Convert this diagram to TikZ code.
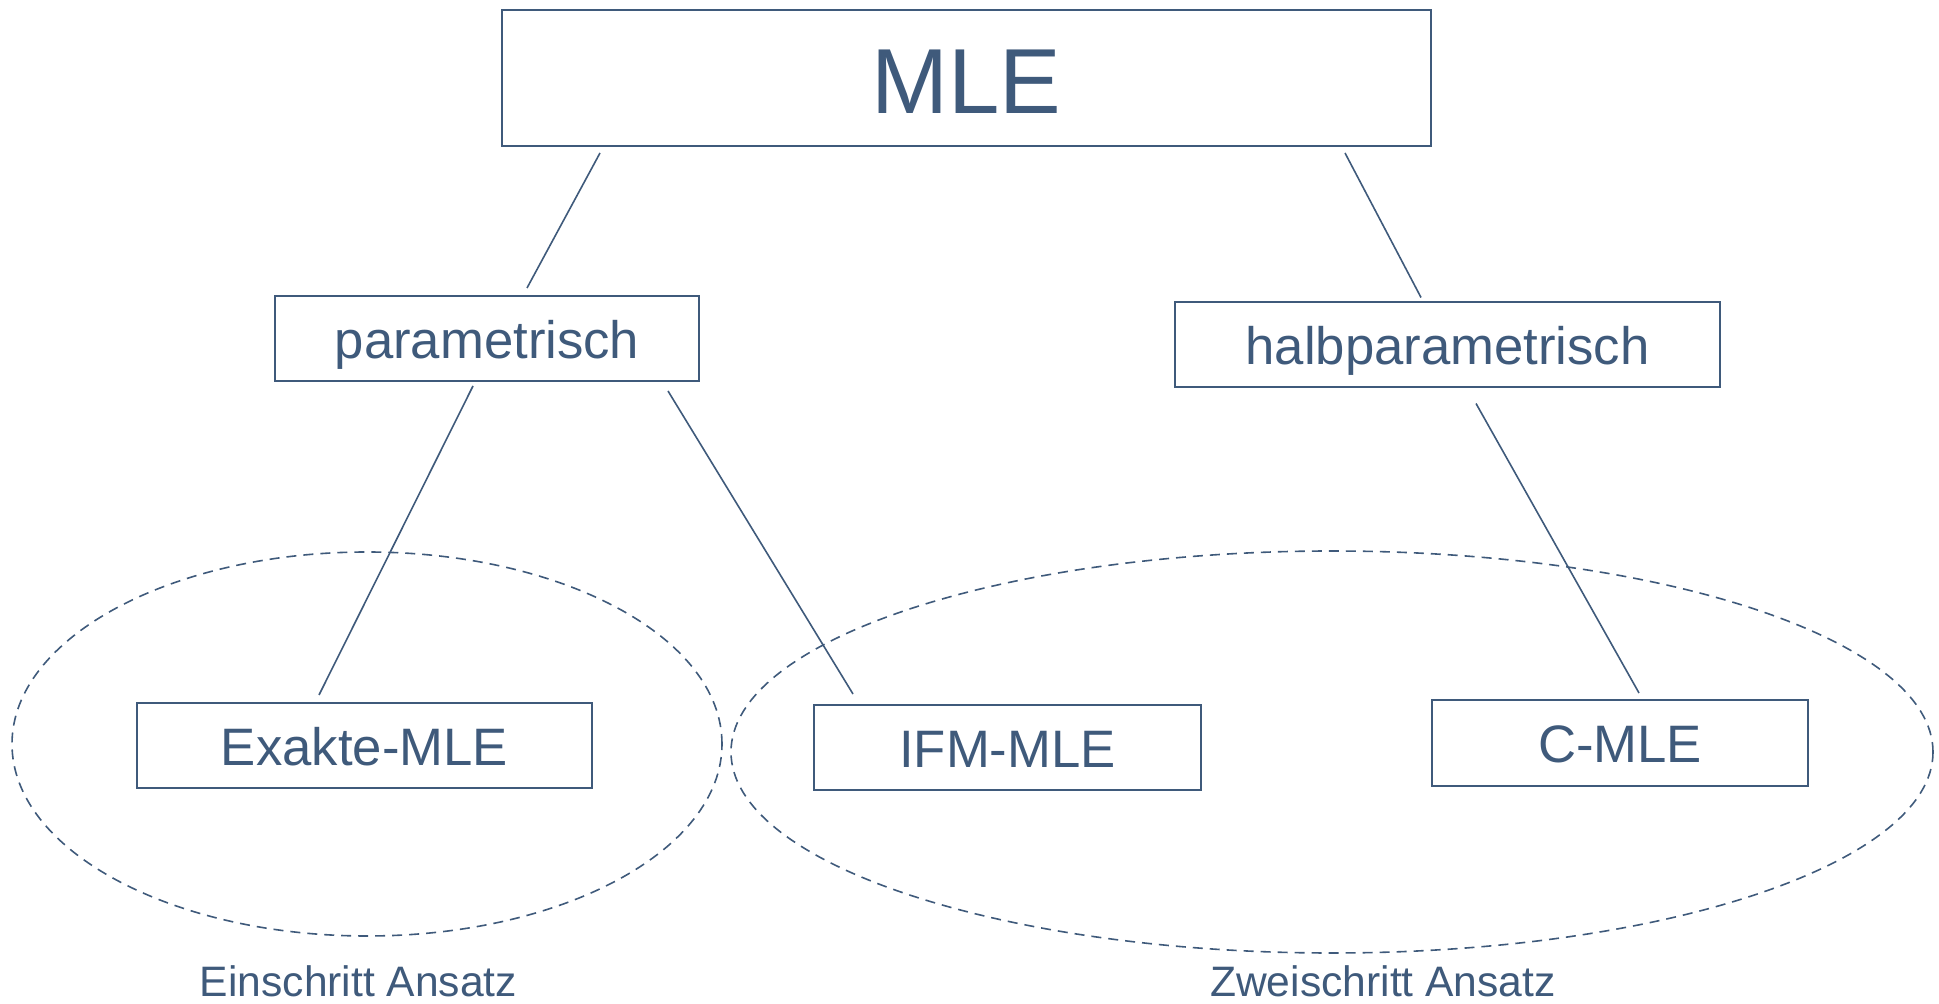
\documentclass[tikz,border=0pt]{standalone}
\usepackage{fontspec}
\setmainfont{Liberation Sans}
\usetikzlibrary{calc}
\usepackage{xcolor}
\definecolor{mleBlue}{HTML}{3F5A7B}

\begin{document}
\begin{tikzpicture}[x=0.5pt,y=-0.5pt,
  box/.style={draw=mleBlue,line width=1pt,inner sep=0pt,text=mleBlue,
    minimum height=42.5pt,text depth=0pt,text height=19.6pt,font=\fontsize{26.35}{30}\selectfont},
  topbox/.style={box,minimum width=464.5pt,minimum height=68pt,
    text height=36pt,font=\fontsize{46.2}{52}\selectfont},
  group/.style={draw=mleBlue,line width=0.8pt,dash pattern=on 5pt off 3.5pt},
  grouplabel/.style={anchor=base,inner sep=0pt,text=mleBlue,font=\fontsize{21.3}{25}\selectfont},
  link/.style={draw=mleBlue,line width=0.8pt}]

  \useasboundingbox (0,0) rectangle (1939,1004);

  \node[topbox] (mle) at (966.5,78) {MLE};

  \node[box,minimum width=212pt] (param) at (487,338.5) {parametrisch};
  \node[box,minimum width=272.5pt] (halb) at (1447.5,345) {halbparametrisch};

  \node[box,minimum width=227.5pt] (exakte) at (364.5,745.5) {Exakte-MLE};
  \node[box,minimum width=193.5pt] (ifm) at (1007.5,747.5) {IFM-MLE};
  \node[box,minimum width=188pt,minimum height=43pt] (cmle) at (1620,743) {C-MLE};

  % Ansaetze
  \draw[group] (367,744) ellipse [x radius=177.5pt,y radius=96pt];
  \draw[group] (1332,752) ellipse [x radius=300.5pt,y radius=100.5pt];
  \node[grouplabel] (einschritt) at (358.5,996) {Einschritt Ansatz};
  \node[grouplabel] (zweischritt) at (1383,996) {Zweischritt Ansatz};

  \draw[link] ($(mle.south west)+(99,6)$) -- ($(param.north west)+(253,-7)$);
  \draw[link] ($(mle.south east)+(-87,6)$) -- ($(halb.north west)+(247,-4)$);
  \draw[link] ($(param.south west)+(199,4)$) -- ($(exakte.north west)+(183,-7)$);
  \draw[link] ($(param.south west)+(394,9)$) -- ($(ifm.north west)+(40,-10)$);
  \draw[link] ($(halb.south west)+(302,15)$) -- ($(cmle.north west)+(208,-6)$);
\end{tikzpicture}
\end{document}
